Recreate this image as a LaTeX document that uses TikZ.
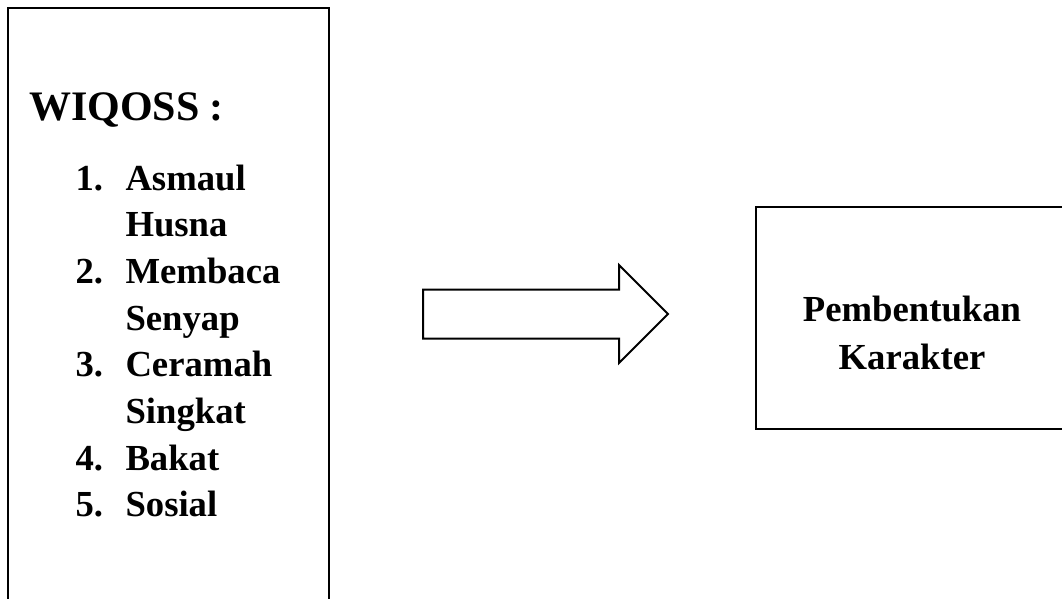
\documentclass[tikz,border=0pt]{standalone}
\usepackage{fontspec}
\setmainfont{Liberation Serif}
\usetikzlibrary{shapes.arrows}
\begin{document}
\begin{tikzpicture}[x=1pt,y=-1pt,
  frame/.style={draw=black, fill=none, inner sep=0pt, outer sep=0pt, anchor=north west},
  itemtxt/.style={inner sep=0pt, outer sep=0pt, anchor=base west, font=\fontsize{36.7pt}{46.7pt}\selectfont\bfseries},
  titletxt/.style={inner sep=0pt, outer sep=0pt, anchor=base west, font=\fontsize{42pt}{50pt}\selectfont\bfseries},
  rtxt/.style={inner sep=0pt, outer sep=0pt, anchor=base, font=\fontsize{36.7pt}{46.7pt}\selectfont\bfseries},
  blockarrow/.style={single arrow, draw=black, fill=white, line width=2pt, inner xsep=0pt, inner ysep=23.5pt, outer sep=0pt,
    minimum height=245pt, minimum width=96pt, single arrow head extend=24.5pt, single arrow tip angle=90}]
\useasboundingbox (0,0) rectangle (1062,598);
\clip (0,0) rectangle (1062,598);
\fill[white] (0,0) rectangle (1062,598);
% left box (runs past the bottom edge)
\node[frame, line width=2pt, minimum width=321pt, minimum height=640pt] (wbox) at (8,8) {};
% right box (runs past the right edge)
\node[frame, line width=1.3pt, minimum width=330pt, minimum height=222pt] (kbox) at (756,207) {};
% block arrow
\node[blockarrow, anchor=tip] (arr) at (668,314) {};
% title
\node[titletxt] (title) at (29,120) {WIQOSS :};
% list
\node[itemtxt] (n1) at (75.5,190) {1.};
\node[itemtxt] (t1a) at (125.5,190) {Asmaul};
\node[itemtxt] (t1b) at (125.5,236.7) {Husna};
\node[itemtxt] (n2) at (75.5,283.4) {2.};
\node[itemtxt] (t2a) at (125.5,283.4) {Membaca};
\node[itemtxt] (t2b) at (125.5,330.1) {Senyap};
\node[itemtxt] (n3) at (75.5,376.8) {3.};
\node[itemtxt] (t3a) at (125.5,376.8) {Ceramah};
\node[itemtxt] (t3b) at (125.5,423.5) {Singkat};
\node[itemtxt] (n4) at (75.5,470.2) {4.};
\node[itemtxt] (t4) at (125.5,470.2) {Bakat};
\node[itemtxt] (n5) at (75.5,516.9) {5.};
\node[itemtxt] (t5) at (125.5,516.9) {Sosial};
% right box text
\node[rtxt] (k1) at (912,321) {Pembentukan};
\node[rtxt] (k2) at (912,369) {Karakter};
\end{tikzpicture}
\end{document}
